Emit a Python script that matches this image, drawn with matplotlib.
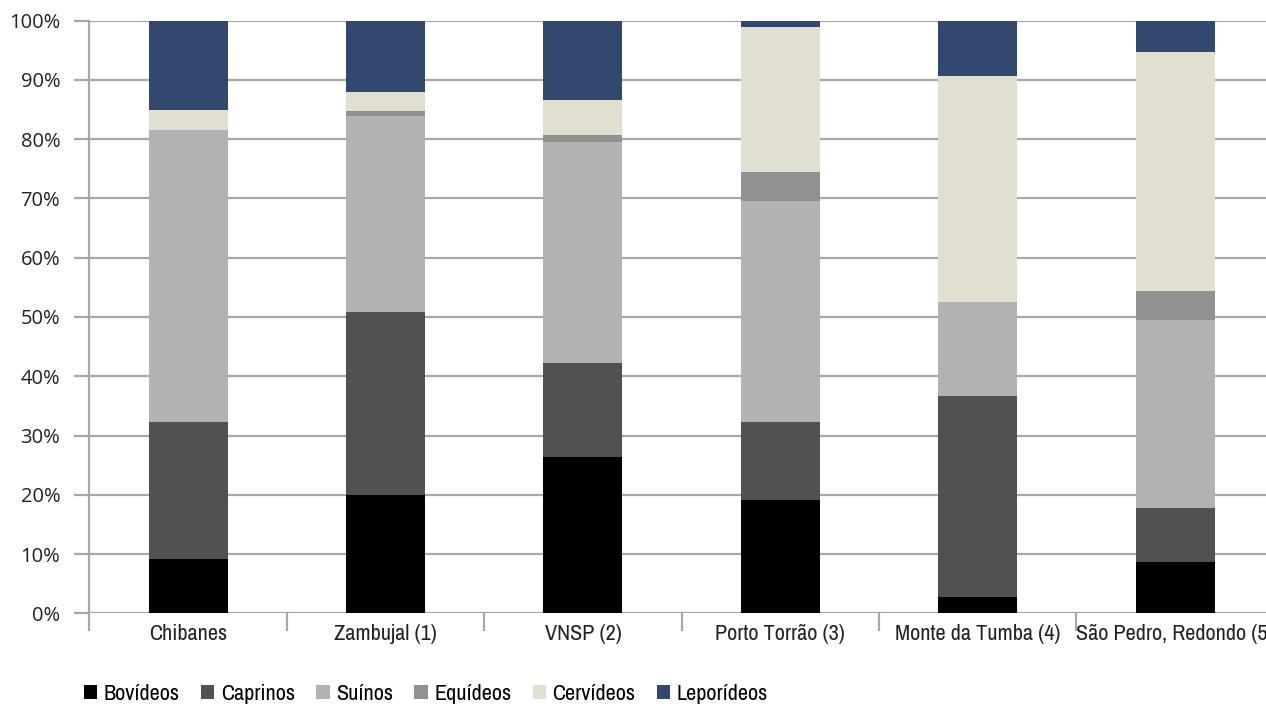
import numpy as np
import matplotlib
matplotlib.use("Agg")
import matplotlib.pyplot as plt
from matplotlib import font_manager

sites = ["Chibanes", "Zambujal (1)", "VNSP (2)", "Porto Torrão (3)",
         "Monte da Tumba (4)", "São Pedro, Redondo (5)"]

# percentage of each taxon per site
bovideos = [9.2, 20.0, 26.4, 19.1, 2.8, 8.6]
caprinos = [23.0, 30.8, 15.8, 13.1, 33.9, 9.1]
suinos = [49.4, 33.1, 37.4, 37.3, 15.9, 31.8]
equideos = [0.0, 0.9, 1.1, 4.9, 0.0, 4.9]
cervideos = [3.3, 3.2, 6.0, 24.5, 38.1, 40.4]
leporideos = [15.1, 12.0, 13.3, 1.1, 9.3, 5.2]

series = [("Bovídeos", bovideos, "#000000"),
          ("Caprinos", caprinos, "#515151"),
          ("Suínos", suinos, "#b2b2b2"),
          ("Equídeos", equideos, "#919191"),
          ("Cervídeos", cervideos, "#e1dfcf"),
          ("Leporídeos", leporideos, "#31496e")]

# look for a narrow face for the labels
narrow = None
for f in font_manager.fontManager.ttflist:
    if "Narrow" in f.name or "Condensed" in f.name:
        narrow = dict(family=f.name)
        break
if narrow is None:
    for f in font_manager.fontManager.ttflist:
        if f.stretch in ("condensed", "semi-condensed") or (isinstance(f.stretch, int) and f.stretch < 500):
            narrow = dict(family=f.name, stretch=f.stretch)
            break
if narrow is None:
    narrow = dict(family="Roboto")
label_font = dict(narrow, size=16)

grid_col = "#a8a8a8"

fig = plt.figure(figsize=(12.66, 7.04), dpi=100)
ax = fig.add_axes([89.3 / 1266, 90.7 / 704, 1184.6 / 1266, 592.6 / 704])

x = np.arange(len(sites))
bottom = np.zeros(len(sites))
handles = []
for name, vals, col in series:
    b = ax.bar(x, vals, width=0.4, bottom=bottom, color=col, label=name, zorder=3)
    handles.append(b)
    bottom += np.array(vals)

ax.set_xlim(-0.5, 5.5)
ax.set_ylim(0, 100)
ax.set_yticks(np.arange(0, 101, 10))
ax.set_yticklabels([f"{v}%" for v in range(0, 101, 10)],
                   fontsize=14.5, family="Open Sans", color="#222222")
ax.yaxis.grid(True, color=grid_col, linewidth=1.6, zorder=0)
ax.tick_params(axis="y", length=11, width=1.6, color=grid_col, pad=10)

# category boundaries as major ticks, names on minor ticks
ax.set_xticks(np.arange(-0.5, 6.0, 1.0))
ax.set_xticklabels([])
ax.set_xticks(x, minor=True)
ax.set_xticklabels(sites, minor=True, color="#222222", **label_font)
ax.tick_params(axis="x", which="major", length=13, width=1.6, color=grid_col)
ax.tick_params(axis="x", which="minor", length=0, pad=8)

for side in ["top", "right", "bottom"]:
    ax.spines[side].set_visible(False)
ax.spines["left"].set_color(grid_col)
ax.spines["left"].set_linewidth(1.6)

fig.legend(handles=handles, loc="lower left", bbox_to_anchor=(0.0593, -0.012),
           ncol=6, frameon=False, handlelength=0.6, handleheight=0.6,
           handletextpad=0.3, columnspacing=0.95, borderaxespad=0,
           prop=label_font)

fig.savefig("out.png", dpi=100)
